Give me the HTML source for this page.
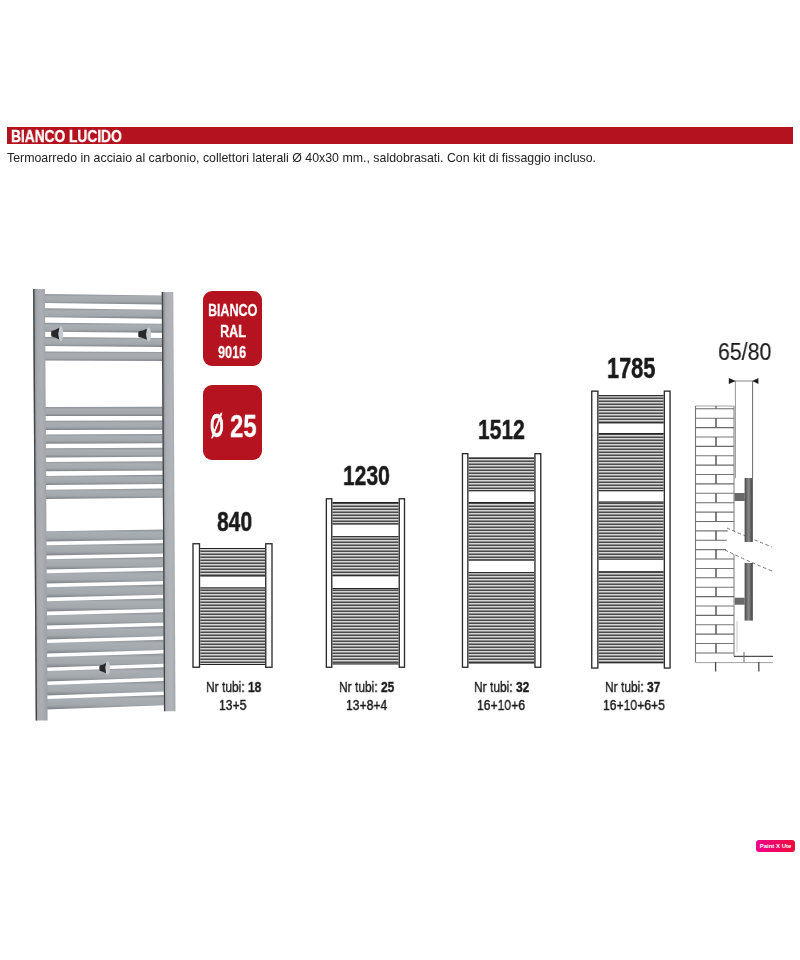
<!DOCTYPE html>
<html><head><meta charset="utf-8">
<style>
html,body{margin:0;padding:0;background:#fff;}
body{width:800px;height:960px;position:relative;overflow:hidden;font-family:"Liberation Sans",sans-serif;}
.t{position:absolute;white-space:nowrap;line-height:1;transform-origin:0 0;will-change:transform;}
#bar{position:absolute;left:6.9px;top:126.5px;width:785.9px;height:17.3px;background:#b4121f;}
.badge{position:absolute;left:203.2px;width:58.7px;border-radius:9px;background:#b5131f;}
svg{position:absolute;left:0;top:0;}
#px{position:absolute;left:756px;top:840px;width:39px;height:12px;border-radius:3px;background:linear-gradient(90deg,#f0048c,#f00a3a);color:#fff;font-size:6px;font-weight:bold;text-align:center;line-height:12px;}
</style></head><body>
<div id="bar"></div>
<div class="badge" style="top:290.9px;height:75px;"></div>
<div class="badge" style="top:385.3px;height:74.4px;"></div>
<svg width="800" height="960" viewBox="0 0 800 960">
<defs>
<linearGradient id="rail" x1="0" y1="0" x2="0" y2="1">
<stop offset="0" stop-color="#8c9094"/><stop offset="0.25" stop-color="#a9aeb3"/><stop offset="0.7" stop-color="#a3a8ad"/><stop offset="1" stop-color="#7f8387"/>
</linearGradient>
<linearGradient id="post" x1="0" y1="0" x2="1" y2="0">
<stop offset="0" stop-color="#8a8e92"/><stop offset="0.3" stop-color="#a6aaaf"/><stop offset="0.6" stop-color="#acb0b5"/><stop offset="1" stop-color="#9ca0a5"/>
</linearGradient>
<linearGradient id="post2" x1="0" y1="0" x2="1" y2="0">
<stop offset="0" stop-color="#7a7e82"/><stop offset="0.3" stop-color="#a9adb2"/><stop offset="0.7" stop-color="#b2b6ba"/><stop offset="1" stop-color="#a4a8ac"/>
</linearGradient>
<linearGradient id="vbar" x1="0" y1="0" x2="1" y2="0">
<stop offset="0" stop-color="#4a4a4a"/><stop offset="0.25" stop-color="#6a6a6a"/><stop offset="0.5" stop-color="#8a8a8a"/><stop offset="0.8" stop-color="#5a5a5a"/><stop offset="1" stop-color="#3e3e3e"/>
</linearGradient>
<pattern id="tubes" x="0" y="0" width="10" height="3" patternUnits="userSpaceOnUse">
<rect x="0" y="0" width="10" height="3" fill="#8e8e8e"/>
<rect x="0" y="0" width="10" height="1" fill="#d6d6d6"/>
<rect x="0" y="2" width="10" height="1" fill="#4a4a4a"/>
</pattern>
</defs>
<polygon points="44.03,294 162.72,295.5 162.72,304.5 44.03,303" fill="url(#rail)"/>
<polygon points="44.12,308.35 162.79,309.65 162.79,318.65 44.12,317.35" fill="url(#rail)"/>
<polygon points="44.2,322.7 162.87,323.8 162.87,332.8 44.2,331.7" fill="url(#rail)"/>
<polygon points="44.29,337.05 162.94,337.95 162.94,346.95 44.29,346.05" fill="url(#rail)"/>
<polygon points="44.38,351.4 163.02,352.1 163.02,361.1 44.38,360.4" fill="url(#rail)"/>
<polygon points="44.71,406.9 163.3,406.82 163.3,416.02 44.71,416.1" fill="url(#rail)"/>
<polygon points="44.79,420.7 163.37,420.43 163.37,429.63 44.79,429.9" fill="url(#rail)"/>
<polygon points="44.88,434.5 163.45,434.03 163.45,443.23 44.88,443.7" fill="url(#rail)"/>
<polygon points="44.96,448.3 163.52,447.64 163.52,456.84 44.96,457.5" fill="url(#rail)"/>
<polygon points="45.04,462.1 163.59,461.25 163.59,470.45 45.04,471.3" fill="url(#rail)"/>
<polygon points="45.13,475.9 163.66,474.85 163.66,484.05 45.13,485.1" fill="url(#rail)"/>
<polygon points="45.21,489.7 163.73,488.46 163.73,497.66 45.21,498.9" fill="url(#rail)"/>
<polygon points="45.46,531.2 163.95,529.38 163.95,539.68 45.46,541.5" fill="url(#rail)"/>
<polygon points="45.54,545.19 164.02,543.17 164.02,553.47 45.54,555.49" fill="url(#rail)"/>
<polygon points="45.63,559.18 164.09,556.97 164.09,567.27 45.63,569.48" fill="url(#rail)"/>
<polygon points="45.71,573.17 164.16,570.76 164.16,581.06 45.71,583.47" fill="url(#rail)"/>
<polygon points="45.8,587.16 164.24,584.56 164.24,594.86 45.8,597.46" fill="url(#rail)"/>
<polygon points="45.88,601.15 164.31,598.35 164.31,608.65 45.88,611.45" fill="url(#rail)"/>
<polygon points="45.97,615.14 164.38,612.14 164.38,622.44 45.97,625.44" fill="url(#rail)"/>
<polygon points="46.05,629.13 164.45,625.94 164.45,636.24 46.05,639.43" fill="url(#rail)"/>
<polygon points="46.13,643.12 164.52,639.73 164.52,650.03 46.13,653.42" fill="url(#rail)"/>
<polygon points="46.22,657.11 164.6,653.53 164.6,663.83 46.22,667.41" fill="url(#rail)"/>
<polygon points="46.3,671.1 164.67,667.32 164.67,677.62 46.3,681.4" fill="url(#rail)"/>
<polygon points="46.39,685.09 164.74,681.11 164.74,691.41 46.39,695.39" fill="url(#rail)"/>
<polygon points="46.47,699.08 164.81,694.91 164.81,705.21 46.47,709.38" fill="url(#rail)"/>
<polygon points="33,289 45,289 47.6,720.5 35.6,720.5" fill="url(#post)"/>
<polygon points="161.7,292 173.3,292 175.5,711.2 163.9,711.2" fill="url(#post2)"/>
<line x1="33.8" y1="289" x2="36.4" y2="720.5" stroke="#44484c" stroke-width="1.4"/>
<line x1="162.4" y1="292" x2="164.6" y2="711.2" stroke="#3e4246" stroke-width="1.2"/>
<ellipse cx="60.9" cy="333.7" rx="2.3" ry="7.5" fill="#c6cacf"/><path d="M51.4,330.9 Q55.3,330.4 59.2,327.8 Q57.64,333.7 59.2,339.6 Q55.3,337 51.4,336.5 Q50.8,333.7 51.4,330.9 Z" fill="#26282b"/>
<ellipse cx="148.65" cy="334.3" rx="2.35" ry="7.1" fill="#c6cacf"/><path d="M138.5,331.5 Q142.7,331 146.9,328.8 Q145.22,334.3 146.9,339.8 Q142.7,337.6 138.5,337.1 Q137.9,334.3 138.5,331.5 Z" fill="#26282b"/>
<ellipse cx="107.75" cy="668.1" rx="2.35" ry="6.8" fill="#c6cacf"/><path d="M99.6,665.5 Q102.8,665 106,662.9 Q104.72,668.1 106,673.3 Q102.8,671.2 99.6,670.7 Q99,668.1 99.6,665.5 Z" fill="#26282b"/>
<rect x="200.25" y="548" width="64.75" height="28.5" fill="url(#tubes)"/>
<line x1="200.25" y1="548.5" x2="265" y2="548.5" stroke="#222" stroke-width="1"/>
<line x1="200.25" y1="576" x2="265" y2="576" stroke="#222" stroke-width="1"/>
<rect x="200.25" y="587.5" width="64.75" height="77.5" fill="url(#tubes)"/>
<line x1="200.25" y1="588" x2="265" y2="588" stroke="#222" stroke-width="1"/>
<line x1="200.25" y1="664.5" x2="265" y2="664.5" stroke="#222" stroke-width="1"/>
<rect x="193" y="543.75" width="6.5" height="123.5" fill="#fff" stroke="#2c2c2c" stroke-width="1.35"/>
<rect x="265.75" y="543.75" width="6.25" height="123.5" fill="#fff" stroke="#2c2c2c" stroke-width="1.35"/>
<rect x="332.5" y="502" width="66" height="22.4" fill="url(#tubes)"/>
<line x1="332.5" y1="502.5" x2="398.5" y2="502.5" stroke="#222" stroke-width="1"/>
<line x1="332.5" y1="523.9" x2="398.5" y2="523.9" stroke="#222" stroke-width="1"/>
<rect x="332.5" y="536.25" width="66" height="40" fill="url(#tubes)"/>
<line x1="332.5" y1="536.75" x2="398.5" y2="536.75" stroke="#222" stroke-width="1"/>
<line x1="332.5" y1="575.75" x2="398.5" y2="575.75" stroke="#222" stroke-width="1"/>
<rect x="332.5" y="588" width="66" height="76.4" fill="url(#tubes)"/>
<line x1="332.5" y1="588.5" x2="398.5" y2="588.5" stroke="#222" stroke-width="1"/>
<line x1="332.5" y1="663.9" x2="398.5" y2="663.9" stroke="#222" stroke-width="1"/>
<rect x="326.35" y="498.75" width="5.4" height="168.5" fill="#fff" stroke="#2c2c2c" stroke-width="1.35"/>
<rect x="399.25" y="498.75" width="5.25" height="168.5" fill="#fff" stroke="#2c2c2c" stroke-width="1.35"/>
<rect x="468.6" y="457.5" width="65.6" height="33.7" fill="url(#tubes)"/>
<line x1="468.6" y1="458" x2="534.2" y2="458" stroke="#222" stroke-width="1"/>
<line x1="468.6" y1="490.7" x2="534.2" y2="490.7" stroke="#222" stroke-width="1"/>
<rect x="468.6" y="502" width="65.6" height="58.5" fill="url(#tubes)"/>
<line x1="468.6" y1="502.5" x2="534.2" y2="502.5" stroke="#222" stroke-width="1"/>
<line x1="468.6" y1="560" x2="534.2" y2="560" stroke="#222" stroke-width="1"/>
<rect x="468.6" y="572.2" width="65.6" height="91.3" fill="url(#tubes)"/>
<line x1="468.6" y1="572.7" x2="534.2" y2="572.7" stroke="#222" stroke-width="1"/>
<line x1="468.6" y1="663" x2="534.2" y2="663" stroke="#222" stroke-width="1"/>
<rect x="462.45" y="453.65" width="5.4" height="213.6" fill="#fff" stroke="#2c2c2c" stroke-width="1.35"/>
<rect x="534.95" y="453.65" width="5.8" height="213.6" fill="#fff" stroke="#2c2c2c" stroke-width="1.35"/>
<rect x="598.6" y="395.2" width="65" height="28.2" fill="url(#tubes)"/>
<line x1="598.6" y1="395.7" x2="663.6" y2="395.7" stroke="#222" stroke-width="1"/>
<line x1="598.6" y1="422.9" x2="663.6" y2="422.9" stroke="#222" stroke-width="1"/>
<rect x="598.6" y="433" width="65" height="58.2" fill="url(#tubes)"/>
<line x1="598.6" y1="433.5" x2="663.6" y2="433.5" stroke="#222" stroke-width="1"/>
<line x1="598.6" y1="490.7" x2="663.6" y2="490.7" stroke="#222" stroke-width="1"/>
<rect x="598.6" y="501.5" width="65" height="58.1" fill="url(#tubes)"/>
<line x1="598.6" y1="502" x2="663.6" y2="502" stroke="#222" stroke-width="1"/>
<line x1="598.6" y1="559.1" x2="663.6" y2="559.1" stroke="#222" stroke-width="1"/>
<rect x="598.6" y="571.3" width="65" height="92" fill="url(#tubes)"/>
<line x1="598.6" y1="571.8" x2="663.6" y2="571.8" stroke="#222" stroke-width="1"/>
<line x1="598.6" y1="662.8" x2="663.6" y2="662.8" stroke="#222" stroke-width="1"/>
<rect x="591.75" y="391.15" width="6.1" height="276.9" fill="#fff" stroke="#2c2c2c" stroke-width="1.35"/>
<rect x="664.35" y="391.15" width="5.7" height="276.9" fill="#fff" stroke="#2c2c2c" stroke-width="1.35"/>
<line x1="695.5" y1="406" x2="734" y2="406" stroke="#9a9a9a" stroke-width="0.9"/>
<line x1="716" y1="406" x2="716" y2="408.8" stroke="#555" stroke-width="1.2"/>
<line x1="695.5" y1="408.8" x2="734" y2="408.8" stroke="#6a6a6a" stroke-width="1.1"/>
<line x1="695.5" y1="418.19" x2="734" y2="418.19" stroke="#777" stroke-width="1.1"/>
<line x1="716" y1="418.19" x2="716" y2="427.58" stroke="#4a4a4a" stroke-width="1.4"/>
<line x1="695.5" y1="427.58" x2="734" y2="427.58" stroke="#6a6a6a" stroke-width="1.1"/>
<line x1="695.5" y1="436.97" x2="734" y2="436.97" stroke="#777" stroke-width="1.1"/>
<line x1="716" y1="436.97" x2="716" y2="446.36" stroke="#4a4a4a" stroke-width="1.4"/>
<line x1="695.5" y1="446.36" x2="734" y2="446.36" stroke="#6a6a6a" stroke-width="1.1"/>
<line x1="695.5" y1="455.75" x2="734" y2="455.75" stroke="#777" stroke-width="1.1"/>
<line x1="716" y1="455.75" x2="716" y2="465.14" stroke="#4a4a4a" stroke-width="1.4"/>
<line x1="695.5" y1="465.14" x2="734" y2="465.14" stroke="#6a6a6a" stroke-width="1.1"/>
<line x1="695.5" y1="474.53" x2="734" y2="474.53" stroke="#777" stroke-width="1.1"/>
<line x1="716" y1="474.53" x2="716" y2="483.92" stroke="#4a4a4a" stroke-width="1.4"/>
<line x1="695.5" y1="483.92" x2="734" y2="483.92" stroke="#6a6a6a" stroke-width="1.1"/>
<line x1="695.5" y1="493.31" x2="734" y2="493.31" stroke="#777" stroke-width="1.1"/>
<line x1="716" y1="493.31" x2="716" y2="502.7" stroke="#4a4a4a" stroke-width="1.4"/>
<line x1="695.5" y1="502.7" x2="734" y2="502.7" stroke="#6a6a6a" stroke-width="1.1"/>
<line x1="695.5" y1="512.09" x2="734" y2="512.09" stroke="#777" stroke-width="1.1"/>
<line x1="716" y1="512.09" x2="716" y2="521.48" stroke="#4a4a4a" stroke-width="1.4"/>
<line x1="695.5" y1="521.48" x2="734" y2="521.48" stroke="#6a6a6a" stroke-width="1.1"/>
<line x1="695.5" y1="530.87" x2="734" y2="530.87" stroke="#777" stroke-width="1.1"/>
<line x1="716" y1="530.87" x2="716" y2="540.26" stroke="#4a4a4a" stroke-width="1.4"/>
<line x1="695.5" y1="540.26" x2="734" y2="540.26" stroke="#6a6a6a" stroke-width="1.1"/>
<line x1="695.5" y1="549.65" x2="734" y2="549.65" stroke="#777" stroke-width="1.1"/>
<line x1="716" y1="549.65" x2="716" y2="559.04" stroke="#4a4a4a" stroke-width="1.4"/>
<line x1="695.5" y1="559.04" x2="734" y2="559.04" stroke="#6a6a6a" stroke-width="1.1"/>
<line x1="695.5" y1="568.43" x2="734" y2="568.43" stroke="#777" stroke-width="1.1"/>
<line x1="716" y1="568.43" x2="716" y2="577.82" stroke="#4a4a4a" stroke-width="1.4"/>
<line x1="695.5" y1="577.82" x2="734" y2="577.82" stroke="#6a6a6a" stroke-width="1.1"/>
<line x1="695.5" y1="587.21" x2="734" y2="587.21" stroke="#777" stroke-width="1.1"/>
<line x1="716" y1="587.21" x2="716" y2="596.6" stroke="#4a4a4a" stroke-width="1.4"/>
<line x1="695.5" y1="596.6" x2="734" y2="596.6" stroke="#6a6a6a" stroke-width="1.1"/>
<line x1="695.5" y1="605.99" x2="734" y2="605.99" stroke="#777" stroke-width="1.1"/>
<line x1="716" y1="605.99" x2="716" y2="615.38" stroke="#4a4a4a" stroke-width="1.4"/>
<line x1="695.5" y1="615.38" x2="734" y2="615.38" stroke="#6a6a6a" stroke-width="1.1"/>
<line x1="695.5" y1="624.77" x2="734" y2="624.77" stroke="#777" stroke-width="1.1"/>
<line x1="716" y1="624.77" x2="716" y2="634.16" stroke="#4a4a4a" stroke-width="1.4"/>
<line x1="695.5" y1="634.16" x2="734" y2="634.16" stroke="#6a6a6a" stroke-width="1.1"/>
<line x1="695.5" y1="643.55" x2="734" y2="643.55" stroke="#777" stroke-width="1.1"/>
<line x1="716" y1="643.55" x2="716" y2="652.94" stroke="#4a4a4a" stroke-width="1.4"/>
<line x1="695.5" y1="652.94" x2="734" y2="652.94" stroke="#6a6a6a" stroke-width="1.1"/>
<line x1="695.5" y1="406" x2="695.5" y2="662.6" stroke="#777" stroke-width="1.1"/>
<line x1="734" y1="406" x2="734" y2="656.4" stroke="#7a7a7a" stroke-width="1"/>
<line x1="735.4" y1="381" x2="735.4" y2="478" stroke="#8a8a8a" stroke-width="0.9"/>
<line x1="752.6" y1="381" x2="752.6" y2="478" stroke="#6a6a6a" stroke-width="1"/>
<path d="M728,528 Q740,534 772,547 L772,571 Q745,560 726,550 Z" fill="#fff"/>
<path d="M727,528 Q740,534 772,547" fill="none" stroke="#777" stroke-width="1" stroke-dasharray="3.5,2.5"/>
<path d="M725,550 Q745,560 772,571" fill="none" stroke="#777" stroke-width="1" stroke-dasharray="3.5,2.5"/>
<rect x="744.6" y="478" width="8.2" height="64" fill="url(#vbar)"/>
<rect x="744.6" y="563" width="8.2" height="57.6" fill="url(#vbar)"/>
<rect x="734.4" y="493" width="10.4" height="8" fill="#6a6a6a"/>
<rect x="734.7" y="597.7" width="10" height="7" fill="#6a6a6a"/>
<line x1="732" y1="381" x2="755" y2="381" stroke="#777" stroke-width="0.9"/>
<polygon points="728.8,378 735.6,381 728.8,384" fill="#1e1e1e"/>
<polygon points="758.4,378 752.4,381 758.4,384" fill="#1e1e1e"/>
<line x1="734" y1="656.4" x2="773" y2="656.4" stroke="#4e4e4e" stroke-width="1.2"/>
<line x1="695.5" y1="662.6" x2="773" y2="662.6" stroke="#a0a0a0" stroke-width="1"/>
<line x1="715.6" y1="662" x2="715.6" y2="671.5" stroke="#4a4a4a" stroke-width="1.3"/>
<line x1="758.8" y1="662" x2="758.8" y2="671.5" stroke="#4a4a4a" stroke-width="1.3"/>
<line x1="744" y1="652" x2="744" y2="662" stroke="#666" stroke-width="1"/>
<line x1="737" y1="621" x2="737" y2="652" stroke="#bbb" stroke-width="0.8"/>
</svg>
<div class="t" style="left:11.3px;top:129.1px;font-size:15.8px;font-weight:bold;color:#fff;transform:scaleX(0.87);-webkit-text-stroke:0.35px #fff;">BIANCO LUCIDO</div>
<div class="t" style="left:7.3px;top:153.2px;font-size:11.9px;font-weight:normal;color:#222;transform:scaleX(1.04);-webkit-text-stroke:0px #222;">Termoarredo in acciaio al carbonio, collettori laterali Ø 40x30 mm., saldobrasati. Con kit di fissaggio incluso.</div>
<div class="t" style="left:207.65px;top:301.87px;font-size:17.12px;font-weight:bold;color:#fff;transform:scaleX(0.73);-webkit-text-stroke:0.3px #fff;">BIANCO</div>
<div class="t" style="left:219.72px;top:322.9px;font-size:17.12px;font-weight:bold;color:#fff;transform:scaleX(0.74);-webkit-text-stroke:0.3px #fff;">RAL</div>
<div class="t" style="left:217.72px;top:344.2px;font-size:17.12px;font-weight:bold;color:#fff;transform:scaleX(0.74);-webkit-text-stroke:0.3px #fff;">9016</div>
<div class="t" style="left:209.6px;top:409.3px;font-size:33.37px;font-weight:bold;color:#fff;transform:scaleX(0.53);-webkit-text-stroke:0.3px #fff;">Ø</div>
<div class="t" style="left:230px;top:410.8px;font-size:31.85px;font-weight:bold;color:#fff;transform:scaleX(0.75);-webkit-text-stroke:0.3px #fff;">25</div>
<div class="t" style="left:216.85px;top:508.3px;font-size:28px;font-weight:bold;color:#1a1a1a;transform:scaleX(0.75);-webkit-text-stroke:0.5px #1a1a1a;">840</div>
<div class="t" style="left:342.85px;top:461.54px;font-size:28px;font-weight:bold;color:#1a1a1a;transform:scaleX(0.75);-webkit-text-stroke:0.5px #1a1a1a;">1230</div>
<div class="t" style="left:477.82px;top:416.02px;font-size:28px;font-weight:bold;color:#1a1a1a;transform:scaleX(0.75);-webkit-text-stroke:0.5px #1a1a1a;">1512</div>
<div class="t" style="left:607.3px;top:353.9px;font-size:28.6px;font-weight:bold;color:#1a1a1a;transform:scaleX(0.76);-webkit-text-stroke:0.5px #1a1a1a;">1785</div>
<div class="t" style="left:717.82px;top:340.3px;font-size:24.76px;font-weight:normal;color:#1a1a1a;transform:scaleX(0.86);-webkit-text-stroke:0.2px #1a1a1a;">65/80</div>
<div class="t" style="left:205.62px;top:679px;font-size:15px;font-weight:normal;color:#1a1a1a;transform:scaleX(0.8);-webkit-text-stroke:0.4px #1a1a1a;">Nr tubi: <b>18</b></div>
<div class="t" style="left:219.28px;top:697.3px;font-size:15px;font-weight:normal;color:#1a1a1a;transform:scaleX(0.81);-webkit-text-stroke:0.4px #1a1a1a;">13+5</div>
<div class="t" style="left:339.4px;top:679px;font-size:15px;font-weight:normal;color:#1a1a1a;transform:scaleX(0.8);-webkit-text-stroke:0.4px #1a1a1a;">Nr tubi: <b>25</b></div>
<div class="t" style="left:345.82px;top:697.3px;font-size:15px;font-weight:normal;color:#1a1a1a;transform:scaleX(0.81);-webkit-text-stroke:0.4px #1a1a1a;">13+8+4</div>
<div class="t" style="left:473.7px;top:679px;font-size:15px;font-weight:normal;color:#1a1a1a;transform:scaleX(0.8);-webkit-text-stroke:0.4px #1a1a1a;">Nr tubi: <b>32</b></div>
<div class="t" style="left:477.16px;top:697.3px;font-size:15px;font-weight:normal;color:#1a1a1a;transform:scaleX(0.81);-webkit-text-stroke:0.4px #1a1a1a;">16+10+6</div>
<div class="t" style="left:605.4px;top:679px;font-size:15px;font-weight:normal;color:#1a1a1a;transform:scaleX(0.8);-webkit-text-stroke:0.4px #1a1a1a;">Nr tubi: <b>37</b></div>
<div class="t" style="left:602.52px;top:697.3px;font-size:15px;font-weight:normal;color:#1a1a1a;transform:scaleX(0.81);-webkit-text-stroke:0.4px #1a1a1a;">16+10+6+5</div>
<div id="px">Paint X Ute</div>
</body></html>
